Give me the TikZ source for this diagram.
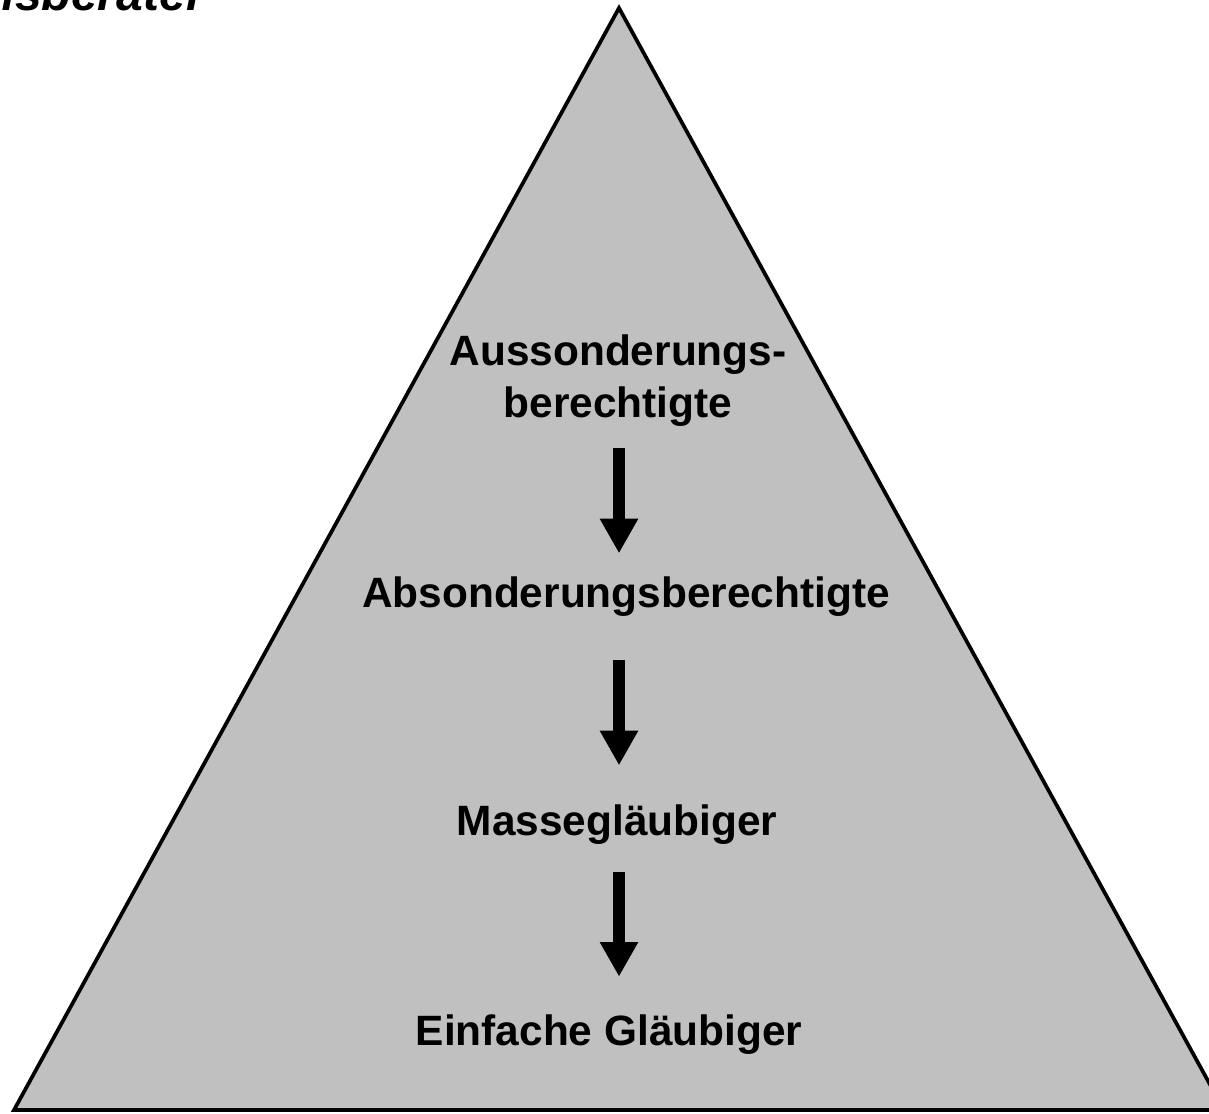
\documentclass[tikz,border=0pt]{standalone}
\usepackage{fontspec}
\setmainfont{Liberation Sans}
\usetikzlibrary{arrows.meta}
\definecolor{pyramid}{RGB}{192,192,192}

\begin{document}
\begin{tikzpicture}[
  x=0.75pt, y=-0.75pt,
  font=\fontsize{31.8}{38.5}\selectfont\bfseries,
  rank/.style={align=center, inner sep=0pt, anchor=base},
  flow/.style={-{Triangle[width=27pt,length=26pt]}, line width=9pt}
]
\useasboundingbox (0,0) rectangle (1209,1113);
\coordinate (apex) at (619,8);
\coordinate (left) at (14,1110);
\coordinate (right) at (1224,1110);
\filldraw[fill=pyramid, draw=black, line width=2.8pt] (apex) -- (left) -- (right) -- cycle;

\node[anchor=base east, inner sep=0pt, font=\fontsize{36}{40}\selectfont\bfseries\itshape] (title) at (205,11) {nsberater};

\node[rank] (aus) at (618,417) {Aussonderungs-\\berechtigte};
\node[rank] (abs) at (626,607) {Absonderungsberechtigte};
\node[rank] (masse) at (617,835) {Massegläubiger};
\node[rank] (einf) at (609,1045) {Einfache Gläubiger};

\draw[flow, shorten <=16.5pt, shorten >=17pt] (aus.south -| apex) -- (abs.north -| apex);
\draw[flow, shorten <=33pt, shorten >=29pt] (abs.south -| apex) -- (masse.north -| apex);
\draw[flow, shorten <=21pt, shorten >=28pt] (masse.south -| apex) -- (einf.north -| apex);
\end{tikzpicture}
\end{document}
